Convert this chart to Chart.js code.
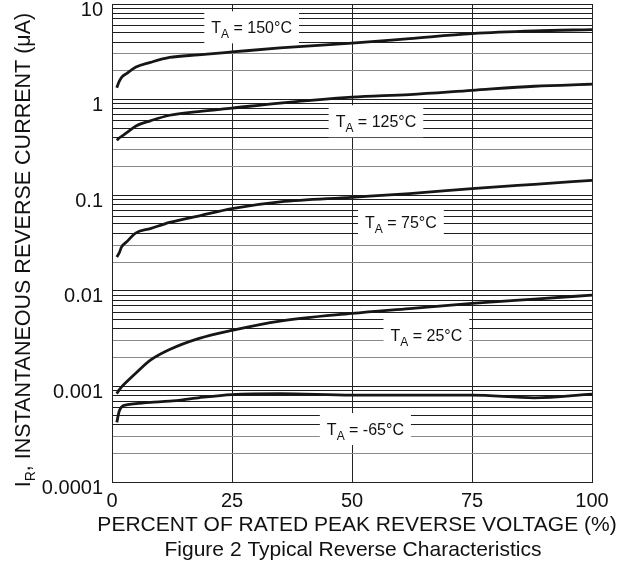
<!DOCTYPE html>
<html><head><meta charset="utf-8">
<script src="https://cdn.jsdelivr.net/npm/chart.js@4/dist/chart.umd.min.js"></script>
<style>html,body{margin:0;padding:0;background:#fff}#wrap{width:640px;height:577px}</style>
</head><body><div id="wrap"><canvas id="c" width="640" height="577"></canvas></div>
<script>
// ---- data ----
const percentRated = [1, 1.5, 2, 3, 5, 8, 12, 18, 25, 35, 50, 62, 75, 88, 100];
const ir150 = [1.33, 1.55, 1.71, 1.87, 2.19, 2.45, 2.76, 2.94, 3.15, 3.47, 3.9, 4.35, 4.9, 5.23, 5.4];
const ir125 = [0.375, 0.397, 0.413, 0.448, 0.53, 0.6, 0.686, 0.75, 0.815, 0.92, 1.06, 1.13, 1.25, 1.38, 1.45];
const ir75 = [0.0226, 0.0249, 0.0288, 0.0323, 0.0404, 0.0447, 0.0519, 0.0605, 0.0724, 0.085, 0.095, 0.104, 0.117, 0.13, 0.143];
const ir25 = [0.00084, 0.00092, 0.00099, 0.00111, 0.00138, 0.00188, 0.00243, 0.00316, 0.00386, 0.00483, 0.0058, 0.00652, 0.0074, 0.0082, 0.009];
const irMinus65 = [0.00042, 0.00055, 0.00061, 0.00064, 0.00066, 0.00068, 0.0007, 0.00076, 0.00082, 0.00084, 0.00081, 0.00081, 0.00081, 0.00076, 0.00083];
const seriesNames = ['150°C', '125°C', '75°C', '25°C', '-65°C'];
const seriesValues = [ir150, ir125, ir75, ir25, irMinus65];
const labelX = [29.3, 55.2, 60.4, 65.7, 53.0];
const labelY = [5.7, 0.594, 0.0522, 0.00348, 0.000358];
const yTickLabels = ['0.0001', '0.001', '0.01', '0.1', '1', '10'];
const xTickValues = [0, 25, 50, 75, 100];
const xTitle = 'PERCENT OF RATED PEAK REVERSE VOLTAGE (%)';
const figTitle = 'Figure 2 Typical Reverse Characteristics';

const FONT = "'Liberation Sans', Arial, sans-serif";
Chart.defaults.font.family = FONT;
Chart.defaults.color = '#111';

const yGridValues = [];
for (let k = -4; k <= 0; k++) for (let m = 1; m <= 9; m++) yGridValues.push(Number((m * Math.pow(10, k)).toPrecision(6)));
yGridValues.push(10);
const isDecade = v => Math.abs(Math.log10(v) - Math.round(Math.log10(v))) < 1e-9;
const mantissa = v => Math.round(v / Math.pow(10, Math.floor(Math.log10(v) + 1e-9)));

const labelPlugin = {
  id: 'tempLabels',
  beforeDatasetsDraw(chart) {
    const {ctx, scales: {x, y}} = chart;
    ctx.save();
    seriesNames.forEach((name, i) => {
      const px = x.getPixelForValue(labelX[i]);
      const py = y.getPixelForValue(labelY[i]);
      const big = '16px ' + FONT, small = '12px ' + FONT;
      const rest = ' = ' + name;
      ctx.font = big; const wT = ctx.measureText('T').width; const wR = ctx.measureText(rest).width;
      ctx.font = small; const wA = ctx.measureText('A').width;
      const w = wT + wA + wR;
      ctx.fillStyle = '#fff';
      ctx.fillRect(px - w / 2 - 8, py - 16, w + 14, 32);
      ctx.fillStyle = '#111';
      ctx.textBaseline = 'alphabetic';
      ctx.textAlign = 'left';
      let sx = px - w / 2 - 1;
      const base = py + 6;
      ctx.font = big; ctx.fillText('T', sx, base); sx += wT;
      ctx.font = small; ctx.fillText('A', sx, base + 5); sx += wA;
      ctx.font = big; ctx.fillText(rest, sx, base);
    });
    ctx.restore();
  }
};

const textPlugin = {
  id: 'extraText',
  afterDraw(chart) {
    const {ctx, chartArea} = chart;
    // y-axis title with subscript
    const cy = (chartArea.top + chartArea.bottom) / 2 + 7;
    const big = '21.5px ' + FONT, small = '14px ' + FONT;
    const p1 = 'I', p2 = 'R', p3 = ', INSTANTANEOUS REVERSE CURRENT (μA)';
    ctx.save();
    ctx.font = big; const w1 = ctx.measureText(p1).width, w3 = ctx.measureText(p3).width;
    ctx.font = small; const w2 = ctx.measureText(p2).width;
    const w = w1 + w2 + w3;
    ctx.translate(29.5, cy);
    ctx.rotate(-Math.PI / 2);
    ctx.fillStyle = '#111';
    ctx.textBaseline = 'alphabetic';
    ctx.textAlign = 'left';
    let sx = -w / 2;
    ctx.font = big; ctx.fillText(p1, sx, 0); sx += w1;
    ctx.font = small; ctx.fillText(p2, sx, 5); sx += w2;
    ctx.font = big; ctx.fillText(p3, sx, 0);
    ctx.restore();
    // x-axis title and figure caption
    const cx = (chartArea.left + chartArea.right) / 2;
    ctx.save();
    ctx.font = '21px ' + FONT;
    ctx.fillStyle = '#111';
    ctx.textAlign = 'center';
    ctx.textBaseline = 'middle';
    ctx.fillText(xTitle, cx + 5, 525);
    ctx.fillText(figTitle, cx + 1, 550);
    ctx.restore();
  }
};

new Chart(document.getElementById('c'), {
  type: 'line',
  data: {
    datasets: seriesValues.map((vals, i) => ({
      label: 'TA = ' + seriesNames[i],
      data: percentRated.map((xv, j) => ({x: xv, y: vals[j]})),
      borderColor: '#161616',
      borderWidth: 2.8,
      pointRadius: 0,
      fill: false,
      cubicInterpolationMode: 'monotone'
    }))
  },
  options: {
    responsive: false,
    animation: false,
    layout: {padding: {left: 0, right: 48, top: 4, bottom: 39}},
    plugins: {
      legend: {display: false},
      tooltip: {enabled: false},
      title: {display: false}
    },
    scales: {
      x: {
        type: 'linear', min: 0, max: 100,
        afterBuildTicks: s => { s.ticks = xTickValues.map(v => ({value: v})); },
        ticks: {color: '#111', font: {size: 20}, padding: 7, maxRotation: 0, autoSkip: false},
        grid: {color: '#222', lineWidth: 1, drawTicks: false},
        border: {color: '#222', width: 1},
        title: {display: false, text: xTitle},
        afterFit: s => { s.height = 56; s.paddingLeft = 0; s.paddingRight = 0; }
      },
      y: {
        type: 'logarithmic', min: 0.0001, max: 10,
        afterBuildTicks: s => { s.ticks = yGridValues.map(v => ({value: v})); },
        ticks: {
          autoSkip: false, color: '#111', font: {size: 20}, padding: 9, labelOffset: 6,
          callback: v => isDecade(v) ? yTickLabels[Math.round(Math.log10(v)) + 4] : ''
        },
        grid: {
          drawTicks: false, lineWidth: 1,
          color: c => { const v = c.tick && c.tick.value; if (!v) return '#222'; const m = mantissa(v); return (m === 2 || m === 3) ? '#8a8a8a' : '#1e1e1e'; }
        },
        border: {color: '#222', width: 1},
        afterFit: s => { s.width = 112; s.paddingTop = 0; s.paddingBottom = 0; }
      }
    }
  },
  plugins: [labelPlugin, textPlugin]
});
</script>
</body></html>
